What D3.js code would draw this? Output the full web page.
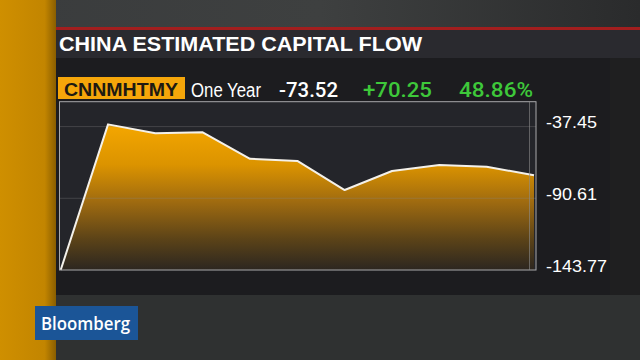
<!DOCTYPE html>
<html>
<head>
<meta charset="utf-8">
<script src="https://cdn.jsdelivr.net/npm/d3@7"></script>
<style>
  html, body { margin: 0; padding: 0; background: #1c1c1f; }
  svg { display: block; }
</style>
</head>
<body>
<svg id="chart"></svg>
<script>
// chart values
const values = [-143.77, -35.8, -42.4, -41.7, -61.3, -62.9, -84.5, -70.4, -65.9, -67.2, -73.52];
const tickValues = [-143.77, -90.61, -37.45];
const tickLabels = ['-143.77', '-90.61', '-37.45'];
const title = 'CHINA ESTIMATED CAPITAL FLOW';
const ticker = 'CNNMHTMY';
const period = 'One Year';
const lastValue = '-73.52';
const change = '+70.25';
const changePct = '48.86%';

const width = 640;
const height = 360;

const svg = d3.select('#chart')
    .attr('width', width)
    .attr('height', height)
    .attr('viewBox', [0, 0, width, height]);

const defs = svg.append('defs');

const bgGrad = defs.append('linearGradient').attr('id', 'bgTop').attr('x1', 0).attr('x2', 1);
bgGrad.append('stop').attr('offset', 0).attr('stop-color', '#3a3c3d');
bgGrad.append('stop').attr('offset', 0.5).attr('stop-color', '#3e4040');
bgGrad.append('stop').attr('offset', 1).attr('stop-color', '#2a2b2c');

const barGrad = defs.append('linearGradient').attr('id', 'orangeBar').attr('x1', 0).attr('x2', 1);
barGrad.append('stop').attr('offset', 0).attr('stop-color', '#cf8f00');
barGrad.append('stop').attr('offset', 0.8).attr('stop-color', '#c28500');
barGrad.append('stop').attr('offset', 1).attr('stop-color', '#8a5e00');

const areaGrad = defs.append('linearGradient').attr('id', 'areaFill')
    .attr('gradientUnits', 'userSpaceOnUse')
    .attr('x1', 0).attr('x2', 0).attr('y1', 120).attr('y2', 270);
areaGrad.append('stop').attr('offset', 0).attr('stop-color', '#f7a900');
areaGrad.append('stop').attr('offset', 0.3).attr('stop-color', '#db9300');
areaGrad.append('stop').attr('offset', 0.55).attr('stop-color', '#9e6a10');
areaGrad.append('stop').attr('offset', 0.8).attr('stop-color', '#5a4218');
areaGrad.append('stop').attr('offset', 1).attr('stop-color', '#2c2620');

// background pieces
svg.append('rect').attr('width', width).attr('height', height).attr('fill', '#2e3030');
svg.append('rect').attr('width', width).attr('height', 28).attr('fill', 'url(#bgTop)');
svg.append('rect').attr('x', 53).attr('y', 27).attr('width', width - 53).attr('height', 3).attr('fill', '#a21e1e');
svg.append('rect').attr('x', 53).attr('y', 30).attr('width', width - 53).attr('height', 28).attr('fill', '#2a2a2f');
svg.append('rect').attr('x', 53).attr('y', 58).attr('width', width - 53).attr('height', 237).attr('fill', '#1c1c1f');
svg.append('rect').attr('x', 610).attr('y', 58).attr('width', 30).attr('height', 237).attr('fill', '#1f1f20');
svg.append('rect').attr('x', 53).attr('y', 295).attr('width', width - 53).attr('height', 65).attr('fill', '#2f3131');
svg.append('rect').attr('x', 0).attr('y', 0).attr('width', 56).attr('height', height).attr('fill', 'url(#orangeBar)');

// title
svg.append('text')
    .attr('x', 59).attr('y', 51)
    .attr('font-family', 'Liberation Sans, Arial, sans-serif')
    .attr('font-weight', 'bold')
    .attr('font-size', 19.5)
    .attr('fill', '#ffffff')
    .attr('textLength', 363)
    .attr('lengthAdjust', 'spacingAndGlyphs')
    .text(title);

// ticker row
svg.append('rect').attr('x', 58).attr('y', 77).attr('width', 127).attr('height', 22).attr('fill', '#f5a60a');
svg.append('text')
    .attr('x', 64).attr('y', 96)
    .attr('font-family', 'Liberation Sans, Arial, sans-serif')
    .attr('font-weight', 'bold').attr('font-size', 19)
    .attr('fill', '#1e1a12')
    .attr('textLength', 114).attr('lengthAdjust', 'spacingAndGlyphs')
    .text(ticker);

const rowFont = 'Liberation Sans, Arial, sans-serif';
[
    { t: period, x: 191, w: 70, c: '#ffffff', f: rowFont, wt: 'normal' },
    { t: lastValue, x: 279, w: 59, c: '#ffffff', f: 'Roboto, sans-serif', wt: 500 },
    { t: change, x: 363, w: 69, c: '#3ec83a', f: 'Roboto, sans-serif', wt: 500 },
    { t: changePct, x: 459, w: 74, c: '#3ec83a', f: 'Roboto, sans-serif', wt: 500 }
].forEach(d => {
    svg.append('text')
        .attr('x', d.x).attr('y', 96.5)
        .attr('font-family', d.f)
        .attr('font-weight', d.wt)
        .attr('font-size', 19.5)
        .attr('fill', d.c)
        .attr('textLength', d.w).attr('lengthAdjust', 'spacingAndGlyphs')
        .text(d.t);
});

// chart
const plot = { left: 59.5, right: 536, top: 101.7, bottom: 270 };

const x = d3.scaleLinear()
    .domain([0, values.length - 1])
    .range([60.7, 534]);

const y = d3.scaleLinear()
    .domain([-143.77, -19.0])
    .range([plot.bottom, plot.top]);

svg.append('rect')
    .attr('x', plot.left).attr('y', plot.top)
    .attr('width', plot.right - plot.left).attr('height', plot.bottom - plot.top)
    .attr('fill', '#24252a');

const area = d3.area()
    .x((d, i) => x(i))
    .y0(y(-143.77))
    .y1(d => y(d));

const line = d3.line()
    .x((d, i) => x(i))
    .y(d => y(d));

svg.append('path')
    .datum(values)
    .attr('d', area)
    .attr('fill', 'url(#areaFill)');

// gridlines
svg.append('g')
    .selectAll('line')
    .data(tickValues.slice(1))
    .join('line')
    .attr('x1', plot.left).attr('x2', plot.right)
    .attr('y1', d => y(d)).attr('y2', d => y(d))
    .attr('stroke', '#8a8a8a')
    .attr('stroke-opacity', 0.3)
    .attr('stroke-width', 1);

svg.append('path')
    .datum(values)
    .attr('d', line)
    .attr('fill', 'none')
    .attr('stroke', '#f4f1ea')
    .attr('stroke-width', 2)
    .attr('stroke-linejoin', 'round');

// frame
svg.append('rect')
    .attr('x', plot.left).attr('y', plot.top)
    .attr('width', plot.right - plot.left).attr('height', plot.bottom - plot.top)
    .attr('fill', 'none')
    .attr('stroke', '#a9a9ab')
    .attr('stroke-width', 1);

svg.append('line')
    .attr('x1', 529.5).attr('x2', 529.5)
    .attr('y1', plot.top).attr('y2', plot.bottom)
    .attr('stroke', '#8c8c8c')
    .attr('stroke-opacity', 0.6);

// right axis labels
svg.append('g')
    .selectAll('text')
    .data(tickValues)
    .join('text')
    .attr('x', 546)
    .attr('y', d => y(d) + 1.5)
    .attr('font-family', rowFont)
    .attr('font-size', 17)
    .attr('fill', '#ffffff')
    .attr('textLength', (d, i) => tickLabels[i].length > 6 ? 61 : 51)
    .attr('lengthAdjust', 'spacingAndGlyphs')
    .text((d, i) => tickLabels[i]);

// Bloomberg logo
svg.append('rect').attr('x', 35).attr('y', 306).attr('width', 103).attr('height', 34).attr('fill', '#1b5597');
svg.append('text')
    .attr('x', 41).attr('y', 330)
    .attr('font-family', 'Open Sans, Noto Sans, sans-serif')
    .attr('font-weight', 600)
    .attr('font-size', 18)
    .attr('fill', '#ffffff')
    .attr('textLength', 89).attr('lengthAdjust', 'spacingAndGlyphs')
    .text('Bloomberg');
</script>
</body>
</html>
